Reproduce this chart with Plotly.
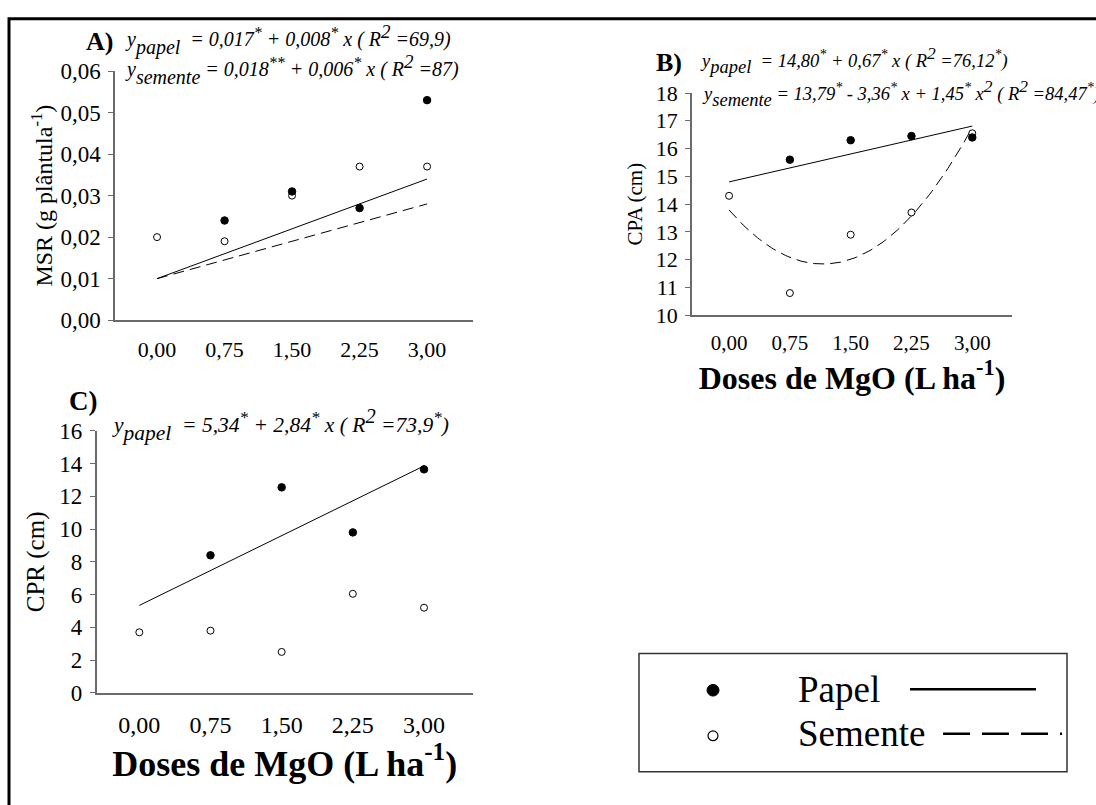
import numpy as np
import plotly.graph_objects as go

# ---------------- data ----------------
doses = [0.0, 0.75, 1.50, 2.25, 3.0]
dose_ticks = [0.0, 0.75, 1.50, 2.25, 3.0]

# A) MSR (g plântula-1)
msr_papel = [None, 0.024, 0.031, 0.027, 0.053]
msr_semente = [0.020, 0.019, 0.030, 0.037, 0.037]
msr_fit_papel = [0.010, 0.008]      # intercept, slope (as drawn)
msr_fit_semente = [0.010, 0.006]

# B) CPA (cm)
cpa_papel = [None, 15.6, 16.3, 16.45, 16.4]
cpa_semente = [14.3, 10.8, 12.9, 13.7, 16.55]
cpa_fit_papel = [14.80, 0.67]
cpa_fit_semente = [13.79, -3.36, 1.45]

# C) CPR (cm)
cpr_papel = [None, 8.4, 12.55, 9.8, 13.65]
cpr_semente = [3.7, 3.8, 2.5, 6.05, 5.2]
cpr_fit_papel = [5.34, 2.84]

W, H = 1096, 805
FONT = "Liberation Serif, Times New Roman, serif"


def px(x):
    return x / W


def py(y):
    return 1 - y / H


def poly(coefs, xs):
    xs = np.asarray(xs, dtype=float)
    return sum(c * xs ** i for i, c in enumerate(coefs))


fig = go.Figure()

x_line = np.array([0.0, 3.0])
x_curve = np.linspace(0, 3, 121)

filled = dict(color="black", size=7.5, line=dict(color="black", width=1))
hollow = dict(color="white", size=7, line=dict(color="black", width=1))

panels = [
    ("x", "y", msr_papel, msr_semente, msr_fit_papel, msr_fit_semente, False),
    ("x2", "y2", cpa_papel, cpa_semente, cpa_fit_papel, cpa_fit_semente, True),
    ("x3", "y3", cpr_papel, cpr_semente, cpr_fit_papel, None, False),
]
for xa, ya, pp, ss, fp, fs, quad in panels:
    fig.add_trace(go.Scatter(x=x_line, y=poly(fp, x_line), mode="lines",
                             line=dict(color="black", width=1), xaxis=xa, yaxis=ya,
                             showlegend=False, hoverinfo="skip"))
    if fs is not None:
        xs = x_curve if quad else x_line
        fig.add_trace(go.Scatter(x=xs, y=poly(fs, xs), mode="lines",
                                 line=dict(color="black", width=1, dash="11px,6px"),
                                 xaxis=xa, yaxis=ya, showlegend=False, hoverinfo="skip"))
    fig.add_trace(go.Scatter(x=doses, y=ss, mode="markers", marker=hollow,
                             xaxis=xa, yaxis=ya, showlegend=False, name="Semente"))
    fig.add_trace(go.Scatter(x=doses, y=pp, mode="markers", marker=filled,
                             xaxis=xa, yaxis=ya, showlegend=False, name="Papel"))

axis_line = dict(showline=True, linecolor="#6a6a6a", linewidth=1.5, showgrid=False,
                 zeroline=False, color="black")

xcommon = dict(axis_line, tickvals=dose_ticks, tickformat=".2f", ticks="")
ycommon = dict(axis_line, ticks="outside", ticklen=5, tickcolor="#6a6a6a", tickwidth=1.2,
               ticklabelstandoff=3)

title_x = "<b>Doses de MgO (L ha<sup>-1</sup>)</b>"

fig.update_layout(
    width=W, height=H,
    margin=dict(l=0, r=0, t=0, b=0),
    paper_bgcolor="white", plot_bgcolor="white",
    separators=", ",
    font=dict(family=FONT, color="black", size=20),
    xaxis=dict(xcommon, domain=[px(115), px(473)], range=[-0.467, 3.51], anchor="y",
               tickfont=dict(size=22), ticklabelstandoff=9),
    yaxis=dict(ycommon, domain=[py(318), py(61)], range=[0, 0.06], dtick=0.01,
               tickformat=".2f", anchor="x", tickfont=dict(size=23),
               title=dict(text="MSR (g plântula<sup>-1</sup>)", font=dict(size=24), standoff=1)),
    xaxis2=dict(xcommon, domain=[px(692), px(1012)], range=[-0.457, 3.49], anchor="y2",
                tickfont=dict(size=21), ticklabelstandoff=8,
                title=dict(text=title_x, font=dict(size=32), standoff=8)),
    yaxis2=dict(ycommon, domain=[py(313), py(83.6)], range=[10, 18], dtick=1,
                anchor="x2", tickfont=dict(size=22),
                title=dict(text="CPA (cm)", font=dict(size=21), standoff=7)),
    xaxis3=dict(xcommon, domain=[px(96.7), px(472.7)], range=[-0.449, 3.513], anchor="y3",
                tickfont=dict(size=24), ticklabelstandoff=10,
                title=dict(text=title_x, font=dict(size=36), standoff=0)),
    yaxis3=dict(ycommon, domain=[py(702.7), py(432.3)], range=[0, 16], dtick=2,
                anchor="x3", tickfont=dict(size=23),
                title=dict(text="CPR (cm)", font=dict(size=25), standoff=8)),
)

# ---------------- annotations ----------------
ann = []


def text(x, y, s, size, anchor="left"):
    ann.append(dict(x=px(x), y=py(y), xref="paper", yref="paper", text=s, showarrow=False,
                    xanchor=anchor, yanchor="middle", font=dict(size=size, family=FONT)))


def sub(s, size):
    return f'<sub><sub><span style="font-size:{size}px">{s}</span></sub></sub>'


def sup(s, size):
    return f'<sup><span style="font-size:{size}px">{s}</span></sup>'


def eq(parts, sb, st, s2):
    out = ""
    for kind, val in parts:
        if kind == "t":
            out += val
        elif kind == "sub":
            out += sub(val, sb)
        elif kind == "star":
            out += sup(val, st)
        elif kind == "sq":
            out += sup(val, s2)
    return "<i>" + out + "</i>"


eqA1 = [("t", "y"), ("sub", "papel"), ("t", "  = 0,017"), ("star", "*"), ("t", " + 0,008"),
        ("star", "*"), ("t", " x ( R"), ("sq", "2"), ("t", " =69,9)")]
eqA2 = [("t", "y"), ("sub", "semente"), ("t", " = 0,018"), ("star", "**"), ("t", " + 0,006"),
        ("star", "*"), ("t", " x ( R"), ("sq", "2"), ("t", " =87)")]
eqB1 = [("t", "y"), ("sub", "papel"), ("t", "  = 14,80"), ("star", "*"), ("t", " + 0,67"),
        ("star", "*"), ("t", " x ( R"), ("sq", "2"), ("t", " =76,12"), ("star", "*"), ("t", ")")]
eqB2 = [("t", "y"), ("sub", "semente"), ("t", " = 13,79"), ("star", "*"), ("t", " - 3,36"),
        ("star", "*"), ("t", " x + 1,45"), ("star", "*"), ("t", " x"), ("sq", "2"),
        ("t", " ( R"), ("sq", "2"), ("t", " =84,47"), ("star", "*"), ("t", ")")]
eqC1 = [("t", "y"), ("sub", "papel"), ("t", "  = 5,34"), ("star", "*"), ("t", " + 2,84"),
        ("star", "*"), ("t", " x ( R"), ("sq", "2"), ("t", " =73,9"), ("star", "*"), ("t", ")")]

text(99, 30, "<b>A)</b>", 26, "center")
text(123, 29, eq(eqA1, 20, 16, 19), 20)
text(123, 59, eq(eqA2, 20, 16, 19), 20)

text(669, 52, "<b>B)</b>", 26, "center")
text(698, 50, eq(eqB1, 18.5, 14, 17.5), 18.5)
text(700, 84, eq(eqB2, 18.5, 14, 17.5), 18.5)

text(83, 401, "<b>C)</b>", 27, "center")
text(110, 426, eq(eqC1, 21.5, 17, 20.5), 21.5)

# legend texts
text(796, 699, "Papel", 37)
text(796, 745, "Semente", 37)
fig.update_layout(annotations=ann)

# ---------------- shapes ----------------
shapes = [
    # outer frame
    dict(type="rect", xref="paper", yref="paper", x0=px(9), y0=-0.02, x1=1.02, y1=py(7),
         line=dict(color="black", width=3)),
    # legend box
    dict(type="rect", xref="paper", yref="paper", x0=px(639), y0=py(784), x1=px(1067), y1=py(662),
         line=dict(color="#333333", width=1.5)),
    dict(type="line", xref="paper", yref="paper", x0=px(910), x1=px(1036), y0=py(699), y1=py(699),
         line=dict(color="black", width=2.5)),
    dict(type="line", xref="paper", yref="paper", x0=px(943), x1=px(1062), y0=py(745), y1=py(745),
         line=dict(color="black", width=2.5, dash="27px,12px")),
    dict(type="circle", xref="paper", yref="paper", x0=px(707), x1=px(719), y0=py(706), y1=py(694),
         fillcolor="black", line=dict(color="black", width=1)),
    dict(type="circle", xref="paper", yref="paper", x0=px(708), x1=px(718), y0=py(752), y1=py(742),
         fillcolor="white", line=dict(color="black", width=1.2)),
]
fig.update_layout(shapes=shapes)

fig.write_html("out.html")
